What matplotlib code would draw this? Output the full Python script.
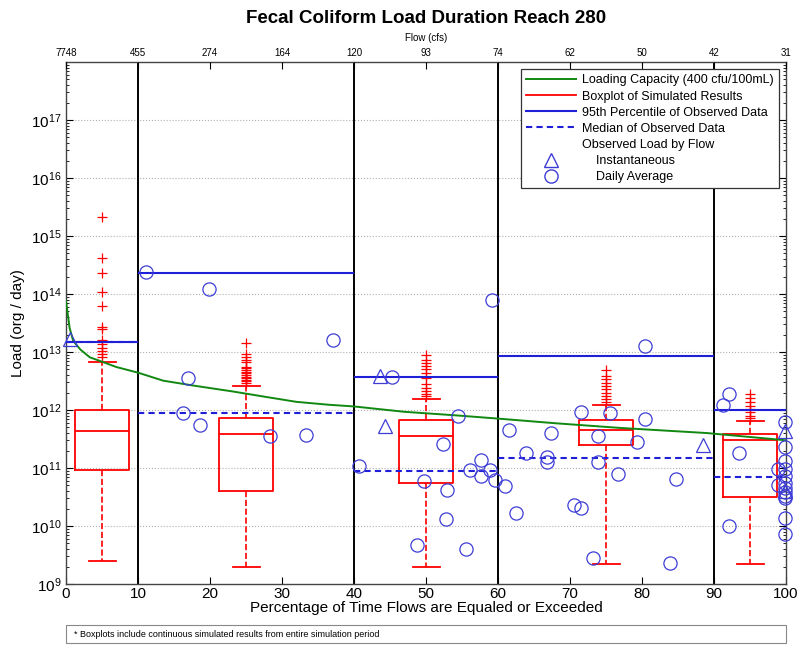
import matplotlib
matplotlib.use('Agg')
import matplotlib.pyplot as plt
from matplotlib.lines import Line2D
from matplotlib.patches import Rectangle
from matplotlib.ticker import LogLocator, NullFormatter

plt.rcParams['font.family'] = ['Liberation Sans', 'DejaVu Sans']
plt.rcParams['mathtext.fontset'] = 'custom'
plt.rcParams['mathtext.rm'] = 'Liberation Sans'
narrow = ['Liberation Sans Narrow', 'Liberation Sans', 'DejaVu Sans']

# flow duration zones and top-axis flow labels
pct_ticks = [0, 10, 20, 30, 40, 50, 60, 70, 80, 90, 100]
flow_labels = ['7748', '455', '274', '164', '120', '93', '74', '62', '50', '42', '31']
zone_edges = [10, 40, 60, 90]

# loading capacity curve (400 cfu/100mL)
cap_pct = [0, 0.5, 1, 2, 3.3, 5, 7, 10, 13.5, 18, 23, 27.5, 32, 36.5, 40,
           47, 54, 60, 68, 77, 89, 100]
cap_load = [7.6e13, 2.6e13, 1.55e13, 1.1e13, 8.1e12, 6.8e12, 5.5e12, 4.4e12,
            3.2e12, 2.6e12, 2.1e12, 1.7e12, 1.38e12, 1.23e12, 1.15e12,
            9.3e11, 8.1e11, 7.1e11, 5.9e11, 4.9e11, 4.0e11, 3.0e11]

# simulated boxplots
box_pos = [5, 25, 50, 75, 95]
box_whislo = [2.5e9, 2.0e9, 2.0e9, 2.2e9, 2.2e9]
box_q1 = [9.3e10, 4.0e10, 5.6e10, 2.5e11, 3.2e10]
box_med = [4.4e11, 3.9e11, 3.5e11, 4.6e11, 3.0e11]
box_q3 = [1.0e12, 7.2e11, 6.8e11, 6.8e11, 3.85e11]
box_whishi = [6.8e12, 2.6e12, 1.55e12, 1.23e12, 6.5e11]
box_fliers = [
    [2.1e15, 4.2e14, 2.3e14, 1.1e14, 6.2e13, 2.7e13, 2.5e13, 1.6e13, 1.35e13,
     1.17e13, 1.02e13, 9.1e12, 8.1e12],
    [1.45e13, 9.3e12, 8.3e12, 7.4e12, 6.6e12, 5.6e12, 5.2e12, 4.9e12, 4.6e12,
     4.3e12, 4.0e12, 3.7e12, 3.5e12, 3.3e12, 3.1e12, 2.9e12],
    [8.9e12, 7.4e12, 6.5e12, 5.8e12, 5.0e12, 4.4e12, 3.6e12, 2.75e12, 2.4e12,
     2.1e12, 1.86e12, 1.74e12],
    [4.8e12, 3.8e12, 3.4e12, 2.95e12, 2.6e12, 2.3e12, 2.0e12, 1.74e12,
     1.55e12, 1.38e12],
    [1.9e12, 1.58e12, 1.35e12, 1.17e12, 1.02e12, 9.1e11, 7.9e11, 7.2e11],
]

# observed data statistics per zone
zone_start = [0, 10, 40, 60, 90]
zone_end = [10, 40, 60, 90, 100]
obs_p95 = [1.5e13, 2.3e14, 3.7e12, 8.5e12, 1.0e12]
obs_median = [1.5e13, 9.0e11, 9.0e10, 1.5e11, 6.9e10]

# observed loads
inst_pct = [0.6, 43.6, 44.3, 88.5, 99.8, 99.8]
inst_load = [1.65e13, 3.8e12, 5.2e11, 2.5e11, 4.3e11, 4.0e10]

daily_pct = [11.1, 19.8, 16.9, 16.25, 18.65, 28.3, 33.4, 37.1, 40.7,
             59.2, 45.3, 54.4, 52.3, 49.7, 52.9, 52.8, 48.8, 55.6, 56.1,
             57.6, 57.7, 58.9, 59.6, 61.0, 61.5, 62.5, 63.9, 66.8, 66.8,
             67.4, 71.5, 70.5, 71.5, 80.4, 75.6, 80.4, 73.9, 79.35, 73.9,
             76.6, 84.7, 73.2, 83.9, 92.1, 91.2, 93.5, 92.1,
             99.8, 99.8, 99.8, 99.8, 99.8, 99.8, 99.8, 99.8, 99.8, 99.8,
             99.8, 99.8, 98.9, 98.9]
daily_load = [2.4e14, 1.2e14, 3.6e12, 9.0e11, 5.4e11, 3.6e11, 3.7e11, 1.6e13,
              1.07e11, 7.8e13, 3.7e12, 7.9e11, 2.6e11, 5.9e10, 4.2e10, 1.3e10,
              4.7e9, 4.0e9, 9.3e10, 1.35e11, 7.4e10, 9.3e10, 6.3e10, 4.8e10,
              4.5e11, 1.66e10, 1.78e11, 1.57e11, 1.26e11, 4.0e11, 9.3e11,
              2.3e10, 2.07e10, 1.29e13, 9.0e11, 6.9e11, 3.5e11, 2.8e11,
              1.26e11, 7.9e10, 6.5e10, 2.8e9, 2.3e9, 1.9e12, 1.23e12, 1.82e11,
              1.0e10,
              6.3e11, 2.3e11, 1.32e11, 9.5e10, 7.2e10, 5.5e10, 4.5e10, 3.8e10,
              3.3e10, 3.0e10, 1.38e10, 7.4e9, 9.5e10, 5.0e10]

blue = '#1f1fd8'
marker_blue = '#3d3dd6'
green = '#118811'

fig = plt.figure(figsize=(8.01, 6.49), dpi=100)
ax = fig.add_axes([0.0824, 0.1002, 0.8989, 0.8043])

ax.set_yscale('log')
ax.set_xlim(0, 100)
ax.set_ylim(1e9, 1e18)

# horizontal dotted grid at decades
for e in range(10, 18):
    ax.axhline(10.0 ** e, color='#b0b0b0', linestyle=':', linewidth=0.8, zorder=0)

# zone boundaries
for xe in zone_edges:
    ax.axvline(xe, color='black', linewidth=1.4, zorder=1)

# boxplots
stats = []
for i in range(len(box_pos)):
    stats.append(dict(med=box_med[i], q1=box_q1[i], q3=box_q3[i],
                      whislo=box_whislo[i], whishi=box_whishi[i],
                      fliers=box_fliers[i]))
ax.bxp(stats, positions=box_pos, widths=7.5, capwidths=3.75,
       manage_ticks=False,
       boxprops=dict(color='red', linewidth=1.3),
       medianprops=dict(color='red', linewidth=1.3),
       whiskerprops=dict(color='red', linewidth=1.2, linestyle='--'),
       capprops=dict(color='red', linewidth=1.3),
       flierprops=dict(marker='+', markeredgecolor='red', markersize=7,
                       markeredgewidth=0.9, linestyle='none'))

# loading capacity
ax.plot(cap_pct, cap_load, color=green, linewidth=1.4, zorder=4)

# observed percentile lines
ax.hlines(obs_p95, zone_start, zone_end, colors=blue, linewidth=1.5, zorder=4)
ax.hlines(obs_median, zone_start, zone_end, colors=blue, linewidth=1.5,
          linestyles=(0, (3, 2)), zorder=4)

# observed loads
ax.plot(inst_pct, inst_load, linestyle='none', marker='^', markersize=10.5,
        markerfacecolor='none', markeredgecolor=marker_blue, markeredgewidth=0.9,
        zorder=5, clip_on=False)
ax.plot(daily_pct, daily_load, linestyle='none', marker='o', markersize=9.5,
        markerfacecolor='none', markeredgecolor=marker_blue, markeredgewidth=0.9,
        zorder=5, clip_on=False)

# axes styling
ax.set_xticks(pct_ticks)
ax.set_xticklabels([str(p) for p in pct_ticks], fontsize=11, family=narrow)
ax.set_yticks([10.0 ** e for e in range(9, 18)])
ax.yaxis.set_minor_locator(LogLocator(base=10, subs=range(2, 10), numticks=20))
ax.yaxis.set_minor_formatter(NullFormatter())
ax.tick_params(axis='y', which='both', direction='in', right=True, labelsize=11)
ax.tick_params(axis='y', which='major', length=5)
ax.tick_params(axis='y', which='minor', length=2.5)
ax.tick_params(axis='x', direction='in', length=5, pad=2)
for sp in ax.spines.values():
    sp.set_color('#444444')
    sp.set_linewidth(1.0)

ax.set_xlabel('Percentage of Time Flows are Equaled or Exceeded', fontsize=11,
              family=narrow, labelpad=0)
ax.set_ylabel('Load (org / day)', fontsize=11, labelpad=4)

# top flow axis
top = ax.twiny()
top.set_xlim(0, 100)
top.set_xticks(pct_ticks)
top.set_xticklabels(flow_labels, fontsize=7, family=narrow)
top.tick_params(axis='x', direction='in', length=5, pad=3)
top.set_xlabel('Flow (cfs)', fontsize=7, family=narrow, labelpad=5)
for sp in top.spines.values():
    sp.set_visible(False)

fig.text(0.532, 0.972, 'Fecal Coliform Load Duration Reach 280', fontsize=13.5,
         fontweight='bold', ha='center', va='center')

# legend
handles = [
    Line2D([], [], color=green, linewidth=1.4),
    Line2D([], [], color='red', linewidth=1.3),
    Line2D([], [], color=blue, linewidth=1.5),
    Line2D([], [], color=blue, linewidth=1.5, linestyle=(0, (3, 2))),
    Line2D([], [], linestyle='none'),
    Line2D([], [], linestyle='none', marker='^', markersize=10.5,
           markerfacecolor='none', markeredgecolor=marker_blue),
    Line2D([], [], linestyle='none', marker='o', markersize=9.5,
           markerfacecolor='none', markeredgecolor=marker_blue),
]
labels = ['Loading Capacity (400 cfu/100mL)', 'Boxplot of Simulated Results',
          '95th Percentile of Observed Data', 'Median of Observed Data',
          'Observed Load by Flow', '    Instantaneous', '    Daily Average']
leg = top.legend(handles, labels, loc='upper right', fontsize=9,
                 handlelength=4.0, handletextpad=0.5, labelspacing=0.33,
                 borderaxespad=0.6, fancybox=False, framealpha=1,
                 borderpad=0.4)
leg.get_frame().set_edgecolor('#333333')
leg.get_frame().set_linewidth(0.9)

# footnote box
fig.add_artist(Rectangle((0.0824, 0.009), 0.8989, 0.028, transform=fig.transFigure,
                         facecolor='white', edgecolor='#888888', linewidth=0.8))
fig.text(0.093, 0.023, '* Boxplots include continuous simulated results from entire simulation period',
         fontsize=6.5, family=narrow, ha='left', va='center')

fig.savefig('out.png', dpi=100, facecolor='white')
